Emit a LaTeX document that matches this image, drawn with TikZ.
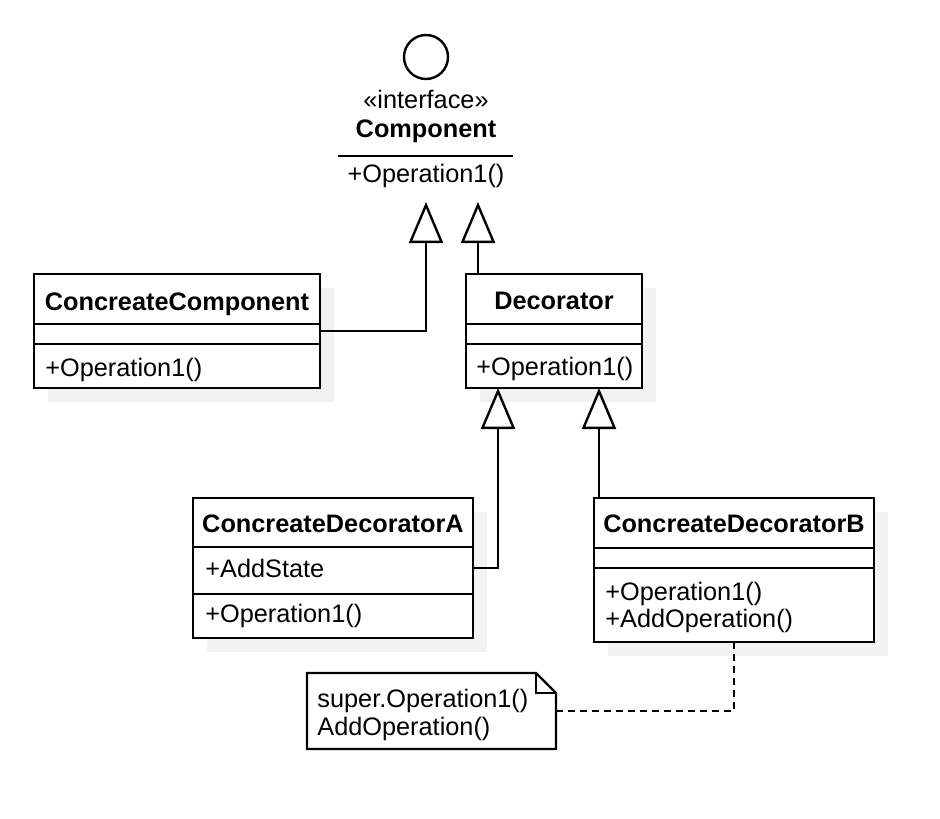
\documentclass[tikz,border=0pt]{standalone}
\usepackage{fontspec}
\setmainfont{Liberation Sans}
\usetikzlibrary{arrows.meta,fit}
\definecolor{shadowc}{RGB}{242,242,242}
\begin{document}
\begin{tikzpicture}[x=0.5pt,y=-0.5pt,
  lw/.style={line width=1.2pt},
  box/.style={draw, lw, fill=white, inner sep=0pt},
  hd/.style={font=\fontsize{12.65}{14}\selectfont\bfseries, inner sep=0pt, anchor=base},
  tx/.style={font=\fontsize{12.65}{14}\selectfont, inner sep=0pt, anchor=base west},
  txc/.style={font=\fontsize{12.65}{14}\selectfont, inner sep=0pt, anchor=base},
  inh/.style={lw, -{Triangle[open, length=20.5pt, width=17pt]}},
  notelink/.style={lw, dash pattern=on 3.5pt off 2.5pt},
  shadowbox/.style={fill=shadowc}
  ]
\fill[white] (0,0) rectangle (940,818);
\path[use as bounding box] (0,0) rectangle (940,818);

% shadows
\fill[shadowbox] (48,288) rectangle (334,402);
\fill[shadowbox] (480,288) rectangle (656,402);
\fill[shadowbox] (207,512) rectangle (487,652);
\fill[shadowbox] (608,512) rectangle (888,656);

% interface Component
\node[draw, lw, circle, minimum size=22pt, inner sep=0pt] (ball) at (426,57) {};
\node[txc] (stereo) at (426,109) {«interface»};
\node[hd] (compname) at (426,138) {Component};
\draw[lw] (338,156) -- (513,156);
\node[txc] (compop) at (426,183) {+Operation1()};
\coordinate (tipL) at (426,202);
\coordinate (tipR) at (478,202);

% ConcreateComponent
\node[box, fit={(34,274) (320,388)}] (cc) {};
\draw[lw] (34,324) -- (320,324);
\draw[lw] (34,344) -- (320,344);
\node[hd] (cct) at (177,310) {ConcreateComponent};
\node[tx] (cco) at (45,376) {+Operation1()};

% Decorator
\node[box, fit={(466,274) (642,388)}] (dec) {};
\draw[lw] (466,324) -- (642,324);
\draw[lw] (466,344) -- (642,344);
\node[hd] (dect) at (554,309) {Decorator};
\node[tx] (deco) at (476,375) {+Operation1()};
\coordinate (tA) at (498,388);
\coordinate (tB) at (599,388);

% ConcreateDecoratorA
\node[box, fit={(193,498) (473,638)}] (cda) {};
\draw[lw] (193,547) -- (473,547);
\draw[lw] (193,594) -- (473,594);
\node[hd] (cdat) at (333,532) {ConcreateDecoratorA};
\node[tx] (cdaa) at (205,577) {+AddState};
\node[tx] (cdao) at (205,622) {+Operation1()};

% ConcreateDecoratorB
\node[box, fit={(594,498) (874,642)}] (cdb) {};
\draw[lw] (594,548) -- (874,548);
\draw[lw] (594,568) -- (874,568);
\node[hd] (cdbt) at (734,532) {ConcreateDecoratorB};
\node[tx] (cdbo1) at (605,600) {+Operation1()};
\node[tx] (cdbo2) at (605,627) {+AddOperation()};
\coordinate (nBx) at (734,0);

% note
\node[inner sep=0pt, fit={(307,673) (556,749)}] (note) {};
\draw[lw, fill=white] (307,673) -- (536,673) -- (556,693) -- (556,749) -- (307,749) -- cycle;
\draw[lw] (536,673) -- (536,693) -- (556,693);
\node[tx] (n1) at (317,707) {super.Operation1()};
\node[tx] (n2) at (317,735) {AddOperation()};

% connectors
\draw[inh] (cc.east) -| (tipL);
\draw[inh] (dec.north -| tipR) -- (tipR);
\draw[inh] (cda.east) -| (tA);
\draw[inh] (cdb.north -| tB) -- (tB);
\draw[notelink] (note.east) -| (cdb.south -| nBx);
\end{tikzpicture}
\end{document}
